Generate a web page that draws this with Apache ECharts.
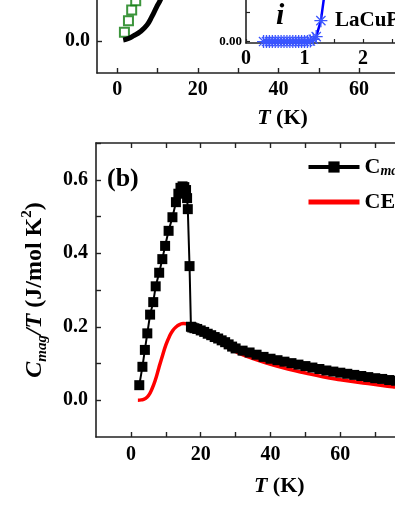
<!DOCTYPE html>
<html>
<head>
<meta charset="utf-8">
<script src="https://cdn.jsdelivr.net/npm/echarts@6.0.0/dist/echarts.min.js"></script>
<style>
  html, body { margin: 0; padding: 0; background: #fff; }
  #chart { width: 395px; height: 511px; }
</style>
</head>
<body>
<div id="chart"></div>
<script>
// panel (a), lower part: C/T curve (black) and open green squares
const aCurveT = [1.5, 2.8, 4.0, 5.7, 7.4, 8.6, 9.8, 10.7, 11.6, 12.6];
const aCurveVal = [0.003, 0.008, 0.016, 0.029, 0.05, 0.076, 0.107, 0.128, 0.16, 0.2];
const aSquareT = [1.8, 2.8, 3.6, 4.6, 5.6];
const aSquareVal = [0.027, 0.063, 0.097, 0.126, 0.165];

// inset (i): LaCuP... reference, blue asterisks
const insetT = [0.30, 0.35, 0.40, 0.45, 0.50, 0.55, 0.60, 0.65, 0.70, 0.75, 0.80, 0.85, 0.90, 0.95, 1.00, 1.05, 1.10, 1.15, 1.20, 1.28, 1.38, 1.48];
const insetVal = [0, 0, 0, 0, 0, 0, 0, 0, 0, 0, 0, 0, 0, 0, 0, 0, 0.0002, 0.0008, 0.0017, 0.0072, 0.022, 0.036];

// panel (b): Cmag/T data and CEF curve
const cmagT = [2.4, 3.3, 4.0, 4.7, 5.5, 6.4, 7.1, 8.1, 9.0, 9.8, 10.8, 11.9, 12.9, 13.6, 14.2, 14.8, 15.3, 15.8, 16.1, 16.3, 16.8, 17.2,
  17.6, 18.2, 19, 20, 21, 22, 23, 24, 25, 26, 27, 28, 29, 30, 32, 34, 36, 38, 40, 42, 44, 46, 48, 50,
  52, 54, 56, 58, 60, 62, 64, 66, 68, 70, 72, 74, 76, 78, 80, 83, 86, 89, 92];
const cmagVal = [0.041, 0.091, 0.137, 0.182, 0.233, 0.267, 0.31, 0.347, 0.384, 0.42, 0.461, 0.498, 0.539, 0.562, 0.578, 0.582, 0.58, 0.572, 0.55, 0.52, 0.365, 0.2,
  0.198, 0.196, 0.194, 0.19, 0.186, 0.181, 0.177, 0.172, 0.168, 0.163, 0.158, 0.152, 0.146, 0.141, 0.135, 0.13, 0.124, 0.118, 0.113, 0.109, 0.105, 0.101, 0.097, 0.093,
  0.089, 0.085, 0.081, 0.078, 0.075, 0.072, 0.069, 0.066, 0.063, 0.06, 0.058, 0.055, 0.053, 0.051, 0.049, 0.046, 0.044, 0.042, 0.04];
const cefT = [2, 3, 4, 5, 6, 7, 8, 9, 10, 11, 12, 13, 14, 15, 16, 17, 18, 20, 22, 25, 28, 30, 35, 40, 45, 50, 55, 60, 65, 70, 75, 80, 90];
const cefVal = [0, 0.001, 0.004, 0.012, 0.03, 0.055, 0.088, 0.12, 0.15, 0.173, 0.19, 0.2, 0.206, 0.209, 0.208, 0.205, 0.2, 0.19, 0.178, 0.16, 0.142, 0.132, 0.113, 0.098, 0.085, 0.074, 0.064, 0.056, 0.049, 0.043, 0.037, 0.033, 0.026];

// tick positions and labels
const tLabels = [0, 20, 40, 60, 80];
const tTicks = [0, 10, 20, 30, 40, 50, 60, 70, 80, 90];
const cLabels = [0, 0.2, 0.4, 0.6];
const cTicks = [0, 0.1, 0.2, 0.3, 0.4, 0.5, 0.6, 0.7];
const insetTLabels = [0, 1, 2, 3];
const insetTTicks = [0, 0.5, 1, 1.5, 2, 2.5, 3];
const insetYLabels = [0];
const insetYTicks = [0, 0.01, 0.02, 0.03];

const FONT = 'Liberation Serif';
const zip = (xs, ys) => xs.map((x, i) => [x, ys[i]]);

const chart = echarts.init(document.getElementById('chart'));

const asterisk = 'path://M9,0h2v20h-2z M0,9h20v2h-20z M2.2,3.6L3.6,2.2L17.8,16.4L16.4,17.8z M16.4,2.2L17.8,3.6L3.6,17.8L2.2,16.4z';

const axisBase = (extra) => Object.assign({
  type: 'value',
  splitLine: { show: false },
  axisLine: { show: true, onZero: false, lineStyle: { color: '#222', width: 1.6 } },
  axisTick: { show: true, inside: true, length: 5, lineStyle: { color: '#222', width: 1.4 } },
  axisLabel: { color: '#000', fontFamily: FONT, fontWeight: 'bold', fontSize: 20 },
}, extra);

const tName = {
  name: '{i|T} (K)',
  nameLocation: 'middle',
  nameTextStyle: {
    color: '#000', fontFamily: FONT, fontWeight: 'bold', fontSize: 22,
    rich: { i: { fontStyle: 'italic', fontWeight: 'bold', fontFamily: FONT, fontSize: 22 } },
  },
};

const option = {
  animation: false,
  grid: [
    { left: 97, top: -183, width: 371, height: 256, outerBoundsMode: 'none', containLabel: false },
    { left: 246, top: -45.5, width: 175.5, height: 88.5, outerBoundsMode: 'none', containLabel: false },
    { left: 96, top: 143, width: 366.5, height: 294, outerBoundsMode: 'none', containLabel: false },
  ],
  xAxis: [
    axisBase(Object.assign({}, tName, {
      gridIndex: 0, min: -5, max: 87, nameGap: 34,
      axisTick: { show: true, inside: true, length: 5, customValues: tTicks, lineStyle: { color: '#222', width: 1.4 } },
      axisLabel: { customValues: tLabels, margin: 7, color: '#000', fontFamily: FONT, fontWeight: 'bold', fontSize: 20 },
    })),
    axisBase({
      gridIndex: 1, min: 0, max: 3,
      axisTick: { show: true, inside: true, length: 4, customValues: insetTTicks, lineStyle: { color: '#222', width: 1.2 } },
      axisLabel: { customValues: insetTLabels, margin: 6, color: '#000', fontFamily: FONT, fontWeight: 'bold', fontSize: 20 },
    }),
    axisBase(Object.assign({}, tName, {
      gridIndex: 2, min: -10, max: 95, nameGap: 38,
      axisTick: { show: true, inside: true, length: 5, customValues: tTicks, lineStyle: { color: '#222', width: 1.4 } },
      axisLabel: { customValues: tLabels, margin: 8, color: '#000', fontFamily: FONT, fontWeight: 'bold', fontSize: 20 },
    })),
    axisBase({
      gridIndex: 2, min: -10, max: 95, position: 'top',
      axisTick: { show: true, inside: true, length: 5, customValues: tTicks, lineStyle: { color: '#222', width: 1.4 } },
      axisLabel: { show: false },
    }),
  ],
  yAxis: [
    axisBase({
      gridIndex: 0, min: -0.1, max: 0.7,
      axisTick: { show: true, inside: true, length: 5, customValues: cLabels, lineStyle: { color: '#222', width: 1.4 } },
      axisLabel: { customValues: cLabels, margin: 7, formatter: (v) => v.toFixed(1), color: '#000', fontFamily: FONT, fontWeight: 'bold', fontSize: 20 },
    }),
    axisBase({
      gridIndex: 1, min: -0.0005, max: 0.03,
      axisTick: { show: true, inside: true, length: 4, customValues: insetYTicks, lineStyle: { color: '#222', width: 1.2 } },
      axisLabel: { customValues: insetYLabels, margin: 4, formatter: (v) => v.toFixed(2), color: '#000', fontFamily: FONT, fontWeight: 'bold', fontSize: 13 },
    }),
    axisBase({
      gridIndex: 2, min: -0.1, max: 0.7,
      axisTick: { show: true, inside: true, length: 5, customValues: cTicks, lineStyle: { color: '#222', width: 1.4 } },
      axisLabel: { customValues: cLabels, margin: 8, formatter: (v) => v.toFixed(1), color: '#000', fontFamily: FONT, fontWeight: 'bold', fontSize: 20 },
      name: '{i|C}{sub|mag}{i|/T} (J/mol K{sup|2})',
      nameLocation: 'middle',
      nameRotate: 90,
      nameGap: 46,
      nameTextStyle: {
        color: '#000', fontFamily: FONT, fontWeight: 'bold', fontSize: 24, lineHeight: 30,
        rich: {
          i: { fontStyle: 'italic', fontWeight: 'bold', fontFamily: FONT, fontSize: 24, lineHeight: 30 },
          sub: { fontStyle: 'italic', fontWeight: 'bold', fontFamily: FONT, fontSize: 15, verticalAlign: 'bottom', lineHeight: 30 },
          sup: { fontWeight: 'bold', fontFamily: FONT, fontSize: 15, verticalAlign: 'top', lineHeight: 20 },
        },
      },
    }),
  ],
  legend: {
    left: 301, top: 151, orient: 'vertical',
    itemWidth: 51, itemHeight: 14, itemGap: 13,
    data: [
      { name: 'Cmag', lineStyle: { width: 4 } },
      { name: 'CEF', itemStyle: { opacity: 0 }, lineStyle: { width: 5 } },
    ],
    formatter: (n) => (n === 'Cmag' ? '{c|C}{s|mag}{c|/T}' : 'CEF fit'),
    textStyle: {
      color: '#000', fontFamily: FONT, fontWeight: 'bold', fontSize: 22,
      rich: {
        c: { fontFamily: FONT, fontWeight: 'bold', fontSize: 22 },
        s: { fontFamily: FONT, fontWeight: 'bold', fontStyle: 'italic', fontSize: 14, verticalAlign: 'bottom' },
      },
    },
  },
  graphic: [
    { type: 'text', left: 107, top: 166, style: { text: '(b)', fontFamily: FONT, fontWeight: 'bold', fontSize: 26, fill: '#000' } },
    { type: 'text', left: 276, top: 1, style: { text: 'i', fontFamily: FONT, fontWeight: 'bold', fontStyle: 'italic', fontSize: 30, fill: '#000' } },
    { type: 'text', left: 335, top: 10, style: { text: 'LaCuPO', fontFamily: FONT, fontWeight: 'bold', fontSize: 21, fill: '#000' } },
  ],
  series: [
    {
      type: 'line', name: 'aC', xAxisIndex: 0, yAxisIndex: 0, data: zip(aCurveT, aCurveVal),
      symbol: 'none', smooth: true, lineStyle: { color: '#000', width: 5 },
    },
    {
      type: 'scatter', name: 'aSq', xAxisIndex: 0, yAxisIndex: 0, data: zip(aSquareT, aSquareVal),
      symbol: 'rect', symbolSize: 9, itemStyle: { color: '#fff', borderColor: '#0b7a0b', borderWidth: 2 },
    },
    {
      type: 'line', name: 'inset', xAxisIndex: 1, yAxisIndex: 1, data: zip(insetT, insetVal),
      symbol: asterisk, symbolSize: 13, showAllSymbol: true,
      itemStyle: { color: '#3a55ff' }, lineStyle: { color: '#0000ff', width: 2.5 },
    },
    {
      type: 'line', name: 'Cmag', xAxisIndex: 2, yAxisIndex: 2, data: zip(cmagT, cmagVal),
      symbol: 'rect', symbolSize: 10, showAllSymbol: true,
      itemStyle: { color: '#000' }, lineStyle: { color: '#000', width: 2 },
    },
    {
      type: 'line', name: 'CEF', xAxisIndex: 2, yAxisIndex: 2, data: zip(cefT, cefVal),
      symbol: 'none', smooth: true, itemStyle: { color: '#ff0000' }, lineStyle: { color: '#ff0000', width: 3.5 },
    },
  ],
};

chart.setOption(option);
</script>
</body>
</html>
